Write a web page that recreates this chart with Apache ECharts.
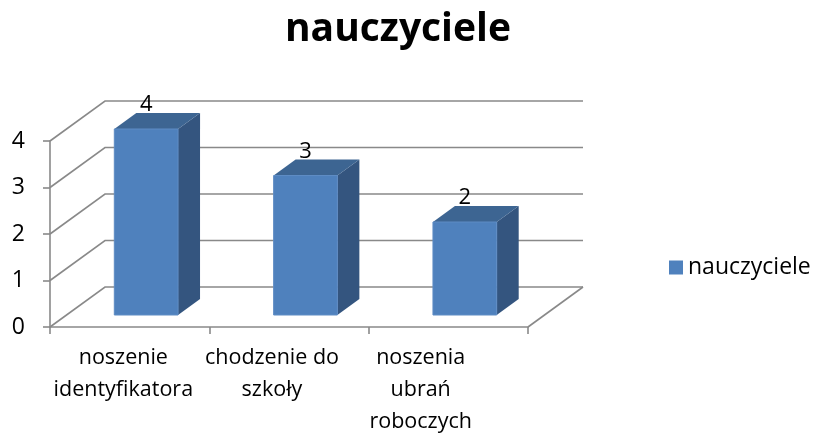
<!DOCTYPE html>
<html>
<head>
<meta charset="utf-8">
<script src="https://cdn.jsdelivr.net/npm/echarts@6/dist/echarts.min.js"></script>
<style>
  html, body { margin: 0; padding: 0; background: #fff; }
  #chart { width: 814px; height: 438px; }
</style>
</head>
<body>
<div id="chart"></div>
<script>
// dane wykresu
const categories = ['noszenie\nidentyfikatora', 'chodzenie do\nszkoły', 'noszenia\nubrań\nroboczych'];
const values = [4, 3, 2];
const yTicks = [0, 1, 2, 3, 4];
const seriesName = 'nauczyciele';

// przesunięcie "głębi" ściany tylnej (pseudo 3D jak w Excelu)
const DX = 55, DY = -40;
const FONT = 'Open Sans';

const chart = echarts.init(document.getElementById('chart'));

function renderWalls(params, api) {
  const cs = params.coordSys;
  const v = api.value(0);
  const y = api.coord([0, v])[1];
  const x0 = cs.x, x1 = cs.x + cs.width;
  const style = { stroke: '#898989', lineWidth: 1.6, fill: null };
  const children = [{
    type: 'polyline',
    shape: { points: [[x0, y], [x0 + DX, y + DY], [x1 + DX, y + DY]] },
    style: style
  }];
  if (v === 0) {
    children.push({
      type: 'line',
      shape: { x1: x1, y1: y, x2: x1 + DX, y2: y + DY },
      style: style
    });
  }
  return { type: 'group', children: children };
}

function renderBar(params, api) {
  const idx = api.value(0);
  const top = api.coord([idx, api.value(1)]);
  const base = api.coord([idx, 0]);
  const bw = api.size([1, 0])[0] * 0.4;
  // słupek stoi w środku głębokości (0.3 .. 0.7)
  const fx = DX * 0.3, fy = DY * 0.3;
  const bx = DX * 0.4, by = DY * 0.4;
  const l = top[0] - bw / 2 + fx, r = top[0] + bw / 2 + fx;
  const t = top[1] + fy, b = base[1] + fy;
  return {
    type: 'group',
    children: [
      {
        type: 'polygon',
        shape: { points: [[r, t], [r + bx, t + by], [r + bx, b + by], [r, b]] },
        style: { fill: '#34557F' }
      },
      {
        type: 'polygon',
        shape: { points: [[l, t], [r, t], [r + bx, t + by], [l + bx, t + by]] },
        style: { fill: '#3D6592' }
      },
      {
        type: 'rect',
        shape: { x: l, y: t, width: r - l, height: b - t },
        style: { fill: '#4F81BD', stroke: '#5E8CC4', lineWidth: 1 }
      },
      {
        type: 'text',
        style: {
          text: String(api.value(1)),
          x: (l + r) / 2, y: t + by + 3,
          align: 'center', verticalAlign: 'bottom',
          fontFamily: FONT, fontSize: 22, fill: '#000'
        }
      }
    ]
  };
}

chart.setOption({
  animation: false,
  backgroundColor: '#fff',
  textStyle: { fontFamily: FONT },
  title: {
    text: seriesName,
    left: 393,
    textAlign: 'center',
    top: 5,
    textStyle: { fontFamily: FONT, fontSize: 39, fontWeight: 'bold', color: '#000' }
  },
  legend: {
    data: [seriesName],
    left: 664,
    top: 251,
    icon: 'rect',
    itemWidth: 14,
    itemHeight: 14,
    textStyle: { fontFamily: FONT, fontSize: 23, color: '#000' }
  },
  grid: [
    { left: 50, top: 141, width: 478, height: 186 },
    // siatka tylko dla podpisów kategorii (przesunięte jak w oryginale)
    { left: 49, top: 141, width: 446, height: 186 }
  ],
  xAxis: [
    {
      type: 'category',
      gridIndex: 0,
      data: categories,
      axisLine: { lineStyle: { color: '#898989', width: 1.6 } },
      axisTick: { show: true, length: 7, lineStyle: { color: '#898989', width: 1.6 } },
      axisLabel: { show: false },
      splitLine: { show: false }
    },
    {
      type: 'category',
      gridIndex: 1,
      data: categories,
      axisLine: { show: false },
      axisTick: { show: false },
      axisLabel: {
        interval: 0,
        margin: 19,
        fontFamily: FONT,
        fontSize: 21.5,
        lineHeight: 32,
        color: '#000'
      }
    }
  ],
  yAxis: [
    {
      type: 'value',
      gridIndex: 0,
      min: 0,
      max: 4,
      interval: 1,
      axisLine: { show: true, lineStyle: { color: '#898989', width: 1.6 } },
      axisTick: { show: true, length: 7, lineStyle: { color: '#898989', width: 1.6 } },
      axisLabel: { margin: 25, fontFamily: FONT, fontSize: 23, color: '#000' },
      splitLine: { show: false }
    },
    { type: 'value', gridIndex: 1, min: 0, max: 4, show: false }
  ],
  series: [
    {
      type: 'custom',
      name: 'walls',
      xAxisIndex: 0,
      yAxisIndex: 0,
      silent: true,
      renderItem: renderWalls,
      data: yTicks.map(v => [v]),
      encode: { y: 0 },
      z: 1
    },
    {
      type: 'custom',
      name: seriesName,
      xAxisIndex: 0,
      yAxisIndex: 0,
      itemStyle: { color: '#4F81BD' },
      renderItem: renderBar,
      data: values.map((v, i) => [i, v]),
      encode: { x: 0, y: 1 },
      z: 2
    }
  ]
});
</script>
</body>
</html>
